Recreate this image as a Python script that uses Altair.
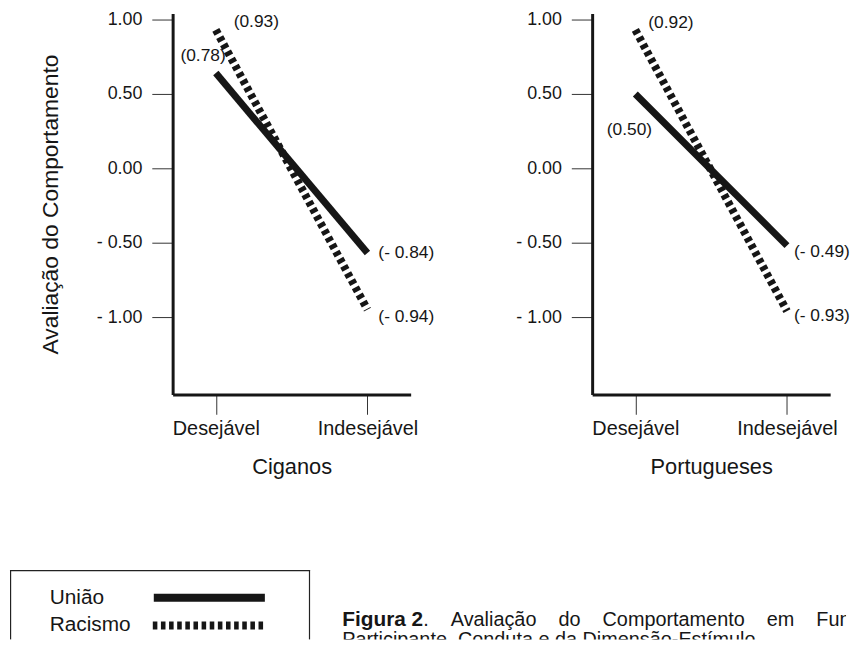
import altair as alt
import pandas as pd

# ---------------- data ----------------
conduta = ["Desejável", "Indesejável"]
series = ["União", "Racismo"]

ciganos_uniao = [0.64, -0.57]
ciganos_racismo = [0.93, -0.95]
portugueses_uniao = [0.50, -0.52]
portugueses_racismo = [0.93, -0.96]

ciganos_uniao_rot = ["(0.78)", "(- 0.84)"]
ciganos_racismo_rot = ["(0.93)", "(- 0.94)"]
portugueses_uniao_rot = ["(0.50)", "(- 0.49)"]
portugueses_racismo_rot = ["(0.92)", "(- 0.93)"]

y_ticks = [-1.0, -0.5, 0.0, 0.5, 1.0]
y_domain = [-1.52, 1.04]

y_title = "Avaliação do Comportamento"
NB4 = "\u00a0\u00a0\u00a0\u00a0"
caption_bold = ["Figura 2"]
caption_words = ["Avaliação", "do", "Comportamento", "em", "Função", "do", "Racismo", "do"]
caption_line1 = ["." + "".join(NB4 + w for w in caption_words)]
caption_line2 = ["Participante, Conduta e da Dimensão-Estímulo."]

# ---------------- style ----------------
FONT = "Liberation Sans"
INK = "#161616"
DASH = [4.6, 3.6]
PW, PH = 240, 384
LBL = 17.5


def panel(grupo, uniao, racismo, rot_u, rot_r, offsets, left_axis_title, box):
    df = pd.DataFrame({
        "conduta": conduta * 2,
        "serie": [series[0]] * 2 + [series[1]] * 2,
        "valor": uniao + racismo,
        "rotulo": rot_u + rot_r,
    })
    x = alt.X("conduta:N", sort=conduta,
              scale=alt.Scale(type="point", domain=conduta, padding=0.285),
              axis=alt.Axis(title=grupo, labelAngle=0, domainWidth=3, domainColor=INK,
                            tickSize=20, tickWidth=1, tickColor="#333333",
                            labelFont=FONT, labelFontSize=20, labelColor=INK, labelPadding=4,
                            titleFont=FONT, titleFontSize=22, titleFontWeight="normal",
                            titleColor=INK, titlePadding=19, grid=False))
    y = alt.Y("valor:Q", scale=alt.Scale(domain=y_domain, nice=False, zero=False),
              axis=alt.Axis(title=left_axis_title, values=y_ticks,
                            labelExpr="datum.value < 0 ? '- ' + format(-datum.value, '.2f') : format(datum.value, '.2f')",
                            domainWidth=3, domainColor=INK, tickSize=21, tickWidth=1,
                            tickColor="#333333", labelFont=FONT, labelFontSize=18,
                            labelColor=INK, labelPadding=10, titleFont=FONT,
                            titleFontSize=23, titleFontWeight="normal", titleColor=INK,
                            titlePadding=34, grid=False))
    base = alt.Chart(df)
    spacer = base.mark_rect(opacity=0).encode(
        x=alt.value(box[0]), x2=alt.value(box[1]), y=alt.value(box[2]), y2=alt.value(box[3]))
    solid = base.transform_filter(alt.datum.serie == series[0]).mark_line(
        color=INK, strokeWidth=7, strokeCap="butt").encode(x=x, y=y)
    dotted = base.transform_filter(alt.datum.serie == series[1]).mark_line(
        color=INK, strokeWidth=8, strokeDash=DASH, strokeCap="butt").encode(x=x, y=y)
    labels = []
    for (serie, cond), (align, dx, dy) in offsets.items():
        labels.append(
            base.transform_filter((alt.datum.serie == serie) & (alt.datum.conduta == cond))
            .mark_text(align=align, baseline="middle", dx=dx, dy=dy, font=FONT,
                       fontSize=LBL, color=INK)
            .encode(x=x, y=y, text="rotulo:N"))
    return alt.layer(spacer, solid, dotted, *labels).properties(width=PW, height=PH)


left = panel("Ciganos", ciganos_uniao, ciganos_racismo, ciganos_uniao_rot, ciganos_racismo_rot,
             {("Racismo", "Desejável"): ("left", 18, -8),
              ("União", "Desejável"): ("right", 10, -17),
              ("União", "Indesejável"): ("left", 11, 0),
              ("Racismo", "Indesejável"): ("left", 11, 7)},
             y_title, (-164, 270, -6, 486))

right = panel("Portugueses", portugueses_uniao, portugueses_racismo, portugueses_uniao_rot,
              portugueses_racismo_rot,
              {("Racismo", "Desejável"): ("left", 13, -7),
               ("União", "Desejável"): ("center", -6, 36),
               ("União", "Indesejável"): ("left", 7, 6),
               ("Racismo", "Indesejável"): ("left", 7, 5)},
              None, (-151, 0, -6, 486))

# ---------------- legend + caption row (origin = left plot's left edge) ----------------
BW, BH = 679, 70
leg = pd.DataFrame({"serie": series})
one = pd.DataFrame({"k": [0]})
box_l = alt.Chart(one).mark_rule(color="#222222", strokeWidth=1.2).encode(
    x=alt.value(-163.4), y=alt.value(0), y2=alt.value(BH))
box_r = alt.Chart(one).mark_rule(color="#222222", strokeWidth=1.2).encode(
    x=alt.value(138), y=alt.value(0), y2=alt.value(BH))
box_t = alt.Chart(one).mark_rule(color="#222222", strokeWidth=1.2).encode(
    x=alt.value(-164), x2=alt.value(138.6), y=alt.value(0.6))
leg_u_txt = alt.Chart(leg.head(1)).mark_text(align="left", baseline="middle", font=FONT,
                                             fontSize=21, color=INK).encode(
    text="serie:N", x=alt.value(-124), y=alt.value(28))
leg_r_txt = alt.Chart(leg.tail(1)).mark_text(align="left", baseline="middle", font=FONT,
                                             fontSize=21, color=INK).encode(
    text="serie:N", x=alt.value(-124), y=alt.value(56))
leg_u_line = alt.Chart(leg.head(1)).mark_rule(color=INK, strokeWidth=8, strokeCap="butt").encode(
    x=alt.value(-19), x2=alt.value(93), y=alt.value(28))
leg_r_line = alt.Chart(leg.tail(1)).mark_rule(color=INK, strokeWidth=8, strokeDash=DASH,
                                              strokeCap="butt").encode(
    x=alt.value(-20), x2=alt.value(92), y=alt.value(56))
cap_b = alt.Chart(pd.DataFrame({"t": caption_bold})).mark_text(
    align="left", baseline="middle", font=FONT, fontSize=21, fontWeight="bold", color=INK,
    clip=True).encode(text="t:N", x=alt.value(171), y=alt.value(50))
cap_1 = alt.Chart(pd.DataFrame({"t": caption_line1})).mark_text(
    align="left", baseline="middle", font=FONT, fontSize=20, color=INK, clip=True).encode(
    text="t:N", x=alt.value(252.7), y=alt.value(50))
cap_2 = alt.Chart(pd.DataFrame({"t": caption_line2})).mark_text(
    align="left", baseline="middle", font=FONT, fontSize=20, color=INK, clip=True).encode(
    text="t:N", x=alt.value(171), y=alt.value(71))
bottom = alt.layer(box_l, box_r, box_t, leg_u_txt, leg_r_txt, leg_u_line, leg_r_line,
                   cap_b, cap_1, cap_2).properties(width=BW, height=BH)

top = alt.hconcat(left, right, spacing=0)
chart = alt.vconcat(top, bottom, spacing=72,
                    padding={"top": -4, "left": 0, "right": 0, "bottom": 0}
                    ).configure_view(stroke="transparent")

chart.save("out.html", embed_options={"renderer": "svg", "actions": False})
